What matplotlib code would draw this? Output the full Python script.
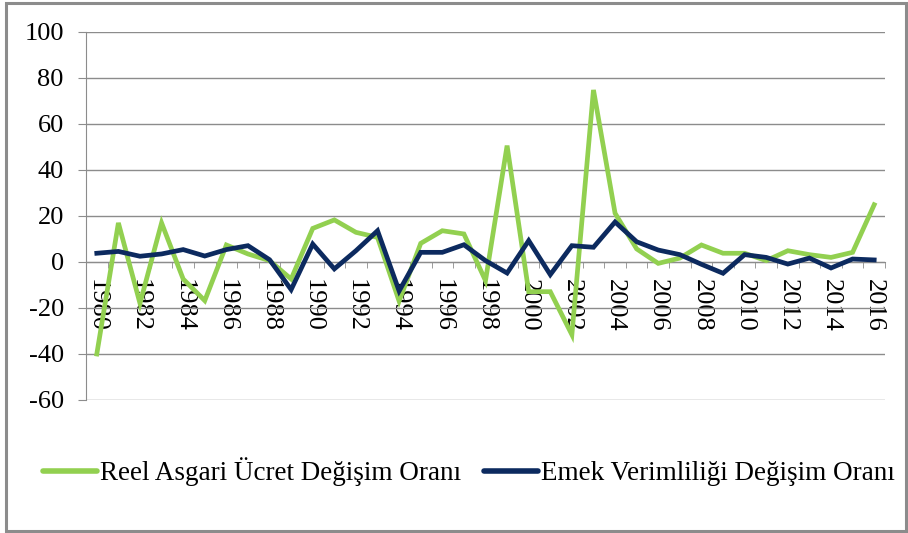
import matplotlib
matplotlib.use("Agg")
import matplotlib.pyplot as plt
from matplotlib.patches import Rectangle
import numpy as np

years = list(range(1980, 2017))
reel_asgari = [-40, 17, -18, 17, -7.4, -16.8, 7.4, 3.5, 0.6, -7.4,
               14.6, 18.3, 12.9, 10.7, -17, 8.1, 13.6, 12.2, -8.1, 50.6,
               -12.9, -12.9, -31.6, 74.8, 21.2, 5.7, -0.6, 1.7, 7.4, 3.8,
               3.8, 0.6, 4.9, 3.2, 2.0, 4.2, 24.9]
emek_verim = [3.8, 4.6, 2.5, 3.5, 5.4, 2.6, 5.4, 7.1, 1.0, -12,
              7.8, -3.0, 4.9, 13.6, -12.6, 4.2, 4.2, 7.5, 0.6, -4.8,
              9.3, -5.5, 7.1, 6.4, 17.4, 8.8, 5.2, 3.2, -1.0, -4.9,
              3.2, 2.0, -0.9, 1.7, -2.6, 1.3, 0.9]
yticks = [100, 80, 60, 40, 20, 0, -20, -40, -60]
label_green = "Reel Asgari Ücret Değişim Oranı"
label_blue = "Emek Verimliliği Değişim Oranı"

plt.rcParams['font.family'] = ['Liberation Serif', 'DejaVu Serif']

W, H = 908, 533
fig = plt.figure(figsize=(W / 100, H / 100), dpi=100)
ax = fig.add_axes([86 / W, 1 - 400 / H, (885 - 86) / W, (400 - 32) / H])

green = '#92d050'
blue = '#0c2a5f'
grid_c = '#8c8c8c'
fs_tick = 19
fs_leg = 19.5

x = np.arange(len(years))
ax.plot(x, reel_asgari, color=green, lw=3.4, solid_joinstyle='miter', label=label_green, zorder=3)
ax.plot(x, emek_verim, color=blue, lw=3.4, solid_joinstyle='miter', label=label_blue, zorder=4)

ax.set_xlim(-0.5, len(years) - 0.5)
ax.set_ylim(-60, 100)
ax.set_yticks(yticks)
ax.set_yticklabels([str(v) for v in yticks], fontsize=fs_tick)
ax.yaxis.grid(True, color=grid_c, lw=1.0)
ax.set_axisbelow(True)

for s in ['top', 'right']:
    ax.spines[s].set_visible(False)
ax.spines['left'].set_color(grid_c)
ax.spines['bottom'].set_color(grid_c)
ax.spines['bottom'].set_position(('data', 0))
ax.tick_params(axis='y', length=6, color=grid_c, pad=10)

# category tick marks at boundaries, labels every other year at centres
ax.set_xticks(np.arange(len(years) + 1) - 0.5, minor=True)
ax.set_xticks(x[::2])
ax.set_xticklabels([str(y) for y in years[::2]], rotation=-90, fontsize=fs_tick,
                   va='top', ha='center')
ax.tick_params(axis='x', which='major', length=0, pad=12)
ax.tick_params(axis='x', which='minor', length=4, color=grid_c)

leg = fig.legend(loc='center', bbox_to_anchor=(469 / W, 1 - 472 / H), ncol=2,
                 frameon=False, fontsize=fs_leg, handlelength=2.0,
                 handletextpad=0.1, columnspacing=0.85, borderaxespad=0)
for line in leg.get_lines():
    line.set_linewidth(4)
    line.set_solid_capstyle('round')

fig.patches.append(Rectangle((6 / W, 2 / H), (906 - 6) / W, (530 - 2) / H,
                             transform=fig.transFigure, fill=False,
                             edgecolor='#8c8c8c', lw=2.2))

fig.savefig('out.png', dpi=100)
